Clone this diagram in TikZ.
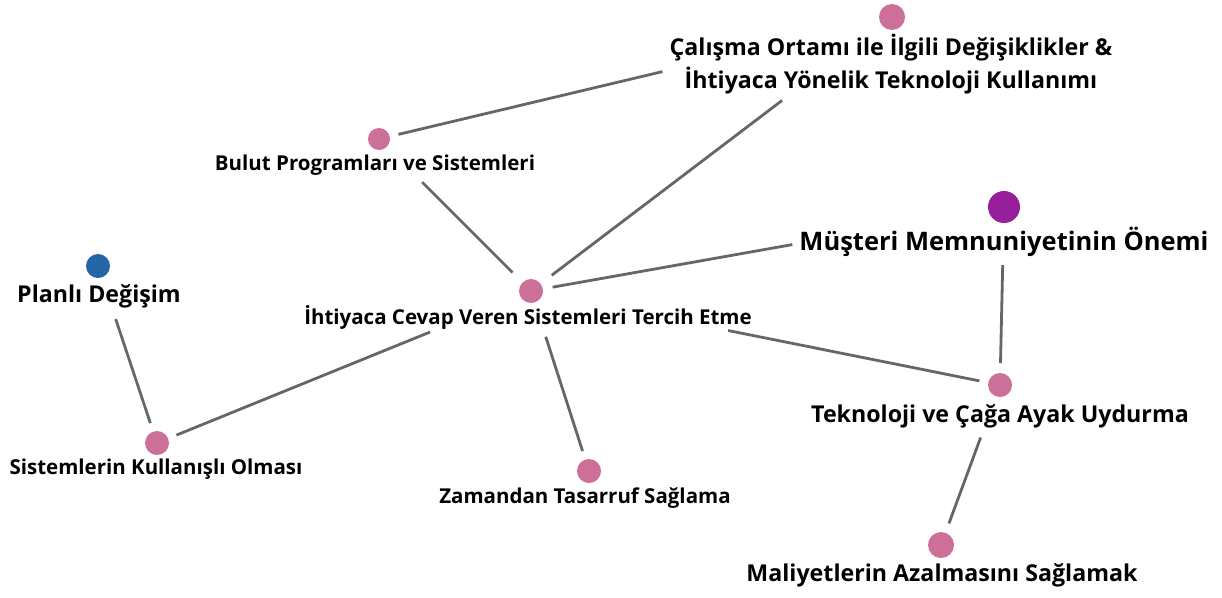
\documentclass[tikz,border=0pt]{standalone}
\usepackage{fontspec}
\setmainfont{Open Sans}
\usetikzlibrary{positioning}
\definecolor{rose}{HTML}{CC7098}
\definecolor{plum}{HTML}{971F9B}
\definecolor{steel}{HTML}{2465A7}
\definecolor{wire}{HTML}{666666}

\begin{document}
\begin{tikzpicture}[x=1pt, y=-1pt,
  dot/.style={circle, fill=rose, inner sep=0pt, minimum size=24pt},
  small/.style={font=\bfseries\fontsize{20.5}{24}\selectfont, inner sep=0pt, align=center},
  large/.style={font=\bfseries\fontsize{23.2}{33}\selectfont, inner sep=0pt, align=center},
  tie/.style={draw=wire, line width=2.8pt}]
  \useasboundingbox (0,0) rectangle (1222,597);
  % concepts
  \node[dot, minimum size=26pt] (cal) at (892,17) {};
  \node[large] (calL) at (891,64) {Çalışma Ortamı ile İlgili Değişiklikler \&\\İhtiyaca Yönelik Teknoloji Kullanımı};
  \node[dot, minimum size=22pt] (bul) at (379,139) {};
  \node[small] (bulL) at (375,165) {Bulut Programları ve Sistemleri};
  \node[dot] (iht) at (531,291) {};
  \node[small] (ihtL) at (528,317) {İhtiyaca Cevap Veren Sistemleri Tercih Etme};
  \node[dot, fill=plum, minimum size=32pt] (mus) at (1004,207) {};
  \node[large, font=\bfseries\fontsize{25.5}{30}\selectfont] (musL) at (1004,242) {Müşteri Memnuniyetinin Önemi};
  \node[dot, fill=steel] (pla) at (98,266) {};
  \node[large] (plaL) at (99,296) {Planlı Değişim};
  \node[dot] (sis) at (157,443) {};
  \node[small] (sisL) at (156,469) {Sistemlerin Kullanışlı Olması};
  \node[dot] (zam) at (589,471) {};
  \node[small] (zamL) at (585,498) {Zamandan Tasarruf Sağlama};
  \node[dot] (tek) at (1000,385) {};
  \node[large] (tekL) at (1000,416) {Teknoloji ve Çağa Ayak Uydurma};
  \node[dot, minimum size=26pt] (mal) at (941,545) {};
  \node[large] (malL) at (942,575) {Maliyetlerin Azalmasını Sağlamak};
  % links
  \draw[tie, shorten <=20pt, shorten >=236pt] (bul.center) -- (cal.center);
  \draw[tie, shorten <=61pt, shorten >=26pt] (bul.center) -- (iht.center);
  \draw[tie, shorten <=138pt, shorten >=26pt] (cal.center) -- (iht.center);
  \draw[tie, shorten <=22pt, shorten >=215pt] (iht.center) -- (mus.center);
  \draw[tie, shorten <=201pt, shorten >=21pt] (iht.center) -- (tek.center);
  \draw[tie, shorten <=109pt, shorten >=21pt] (iht.center) -- (sis.center);
  \draw[tie, shorten <=48pt, shorten >=21pt] (iht.center) -- (zam.center);
  \draw[tie, shorten <=56pt, shorten >=21pt] (pla.center) -- (sis.center);
  \draw[tie, shorten <=58pt, shorten >=22pt] (mus.center) -- (tek.center);
  \draw[tie, shorten <=56pt, shorten >=23pt] (tek.center) -- (mal.center);
\end{tikzpicture}
\end{document}
